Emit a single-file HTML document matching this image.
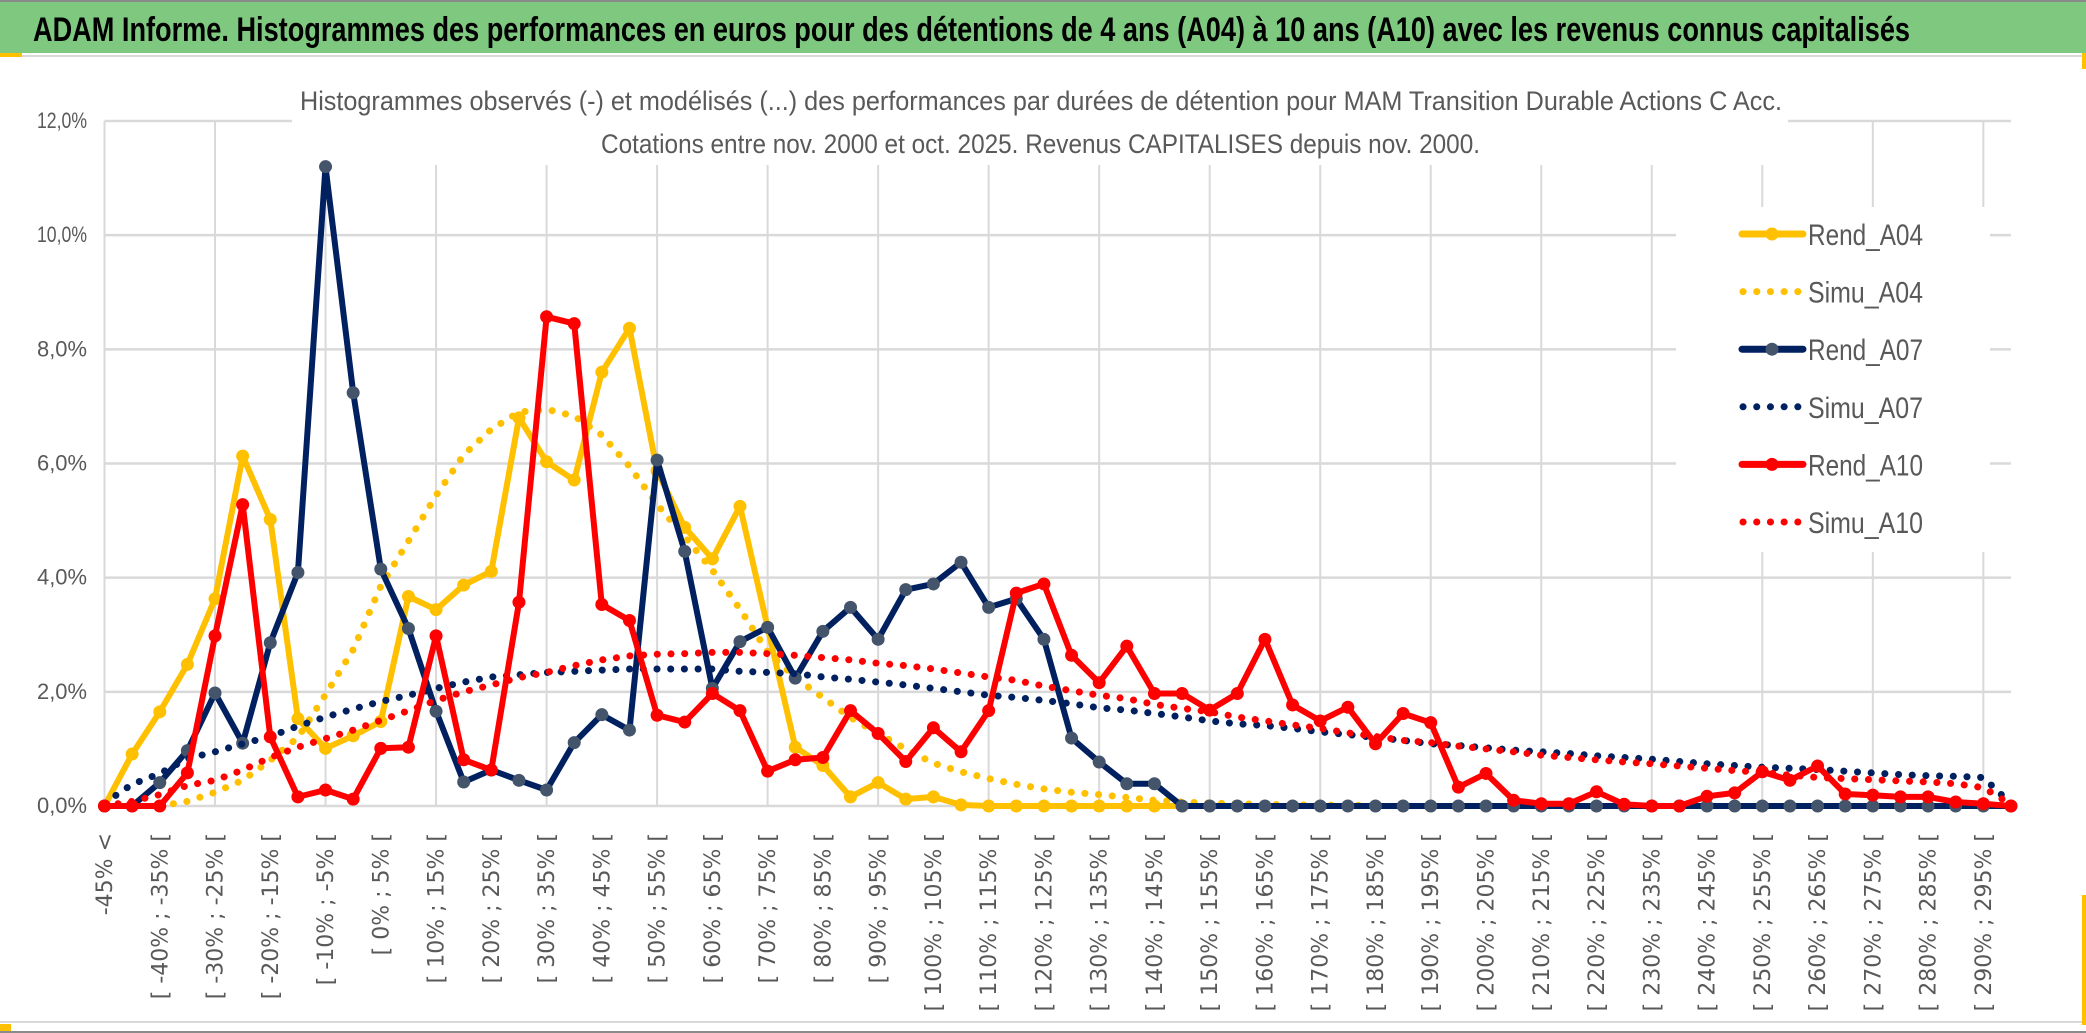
<!DOCTYPE html>
<html><head><meta charset="utf-8"><style>
html,body{margin:0;padding:0;background:#fff;}
svg{display:block;}
.nar{font-family:"Liberation Sans Narrow","Liberation Sans",sans-serif;}
</style></head><body>
<svg id="chart" width="2086" height="1033" viewBox="0 0 2086 1033" xmlns="http://www.w3.org/2000/svg">
<rect x="0" y="0" width="2086" height="1033" fill="#fff"/>
<rect x="0" y="0" width="2086" height="2" fill="#8a8a8a"/>
<rect x="0" y="1031" width="2086" height="2" fill="#8a8a8a"/>
<rect x="0" y="2" width="2086" height="51" fill="#7ec97f"/>
<text class="nar" x="33" y="41" font-size="34" font-weight="bold" fill="#000" textLength="1877" lengthAdjust="spacingAndGlyphs">ADAM Informe. Histogrammes des performances en euros pour des détentions de 4 ans (A04) à 10 ans (A10) avec les revenus connus capitalisés</text>
<rect x="0" y="55" width="2086" height="2" fill="#d9d9d9"/>
<rect x="0" y="1021" width="2086" height="2" fill="#d9d9d9"/>
<rect x="0" y="53" width="22" height="4" fill="#ffc000"/>
<rect x="0" y="1024" width="11" height="7" fill="#ffc000"/>
<rect x="2082" y="53" width="4" height="16" fill="#ffc000"/>
<rect x="2082" y="895" width="4" height="130" fill="#ffc000"/>
<g id="grid"></g>
<rect x="292" y="60" width="1496" height="105" fill="#fff"/>
<rect x="1676" y="207" width="314" height="345" fill="#fff"/>
<text class="nar" x="300" y="110" font-size="27" fill="#595959" textLength="1482" lengthAdjust="spacingAndGlyphs">Histogrammes observés (-) et modélisés (...) des performances par durées de détention pour MAM Transition Durable Actions C Acc.</text>
<text class="nar" x="601" y="153" font-size="27" fill="#595959" textLength="879" lengthAdjust="spacingAndGlyphs">Cotations entre nov. 2000 et oct. 2025. Revenus CAPITALISES depuis nov. 2000.</text>
<g id="yaxis"></g>
<g id="xaxis"></g>
<g id="series"></g>
<g id="legend"></g>
</svg>
<script>
const yTicks = [0, 2, 4, 6, 8, 10, 12];
const yTickLabels = ["0,0%", "2,0%", "4,0%", "6,0%", "8,0%", "10,0%", "12,0%"];
const rendA04 = [0,0.91,1.65,2.48,3.63,6.13,5.02,1.53,1.01,1.23,1.48,3.67,3.44,3.87,4.11,6.8,6.03,5.71,7.6,8.37,5.87,4.88,4.33,5.25,3.13,1.03,0.71,0.16,0.41,0.12,0.16,0.02,0,0,0,0,0,0,0,0];
const simuA04 = [null,null,0,0.08,0.24,0.45,0.8,1.2,1.95,2.74,3.85,4.64,5.44,6.15,6.6,6.9,6.95,6.83,6.5,5.95,5.28,4.72,4.13,3.45,2.7,2.25,1.9,1.55,1.27,1.0,0.75,0.6,0.48,0.38,0.3,0.24,0.2,0.15,0.1,0.07,0.05,0.04,0.03,0.02,0.02,0.01,0.01];
const rendA07 = [0,0,0.41,0.97,1.98,1.1,2.86,4.09,11.2,7.24,4.15,3.11,1.66,0.42,0.63,0.45,0.28,1.11,1.6,1.33,6.06,4.46,2.06,2.88,3.13,2.24,3.06,3.48,2.92,3.79,3.89,4.27,3.48,3.63,2.92,1.19,0.77,0.39,0.39,0,0,0,0,0,0,0,0,0,0,0,0,0,0,0,0,0,0,0,0,0,0,0,0,0,0,0,0,0,0,0];
const simuA07 = [0.05,0.38,0.57,0.83,0.95,1.09,1.22,1.4,1.56,1.7,1.83,1.94,2.06,2.17,2.26,2.3,2.34,2.36,2.38,2.4,2.4,2.4,2.4,2.36,2.34,2.32,2.26,2.22,2.17,2.12,2.06,2.0,1.94,1.9,1.85,1.79,1.72,1.68,1.62,1.56,1.49,1.44,1.41,1.36,1.3,1.25,1.2,1.15,1.09,1.06,1.02,0.98,0.95,0.92,0.88,0.85,0.82,0.78,0.74,0.71,0.68,0.66,0.64,0.61,0.58,0.55,0.53,0.52,0.5,0.04];
const rendA10 = [0,0,0,0.58,2.98,5.28,1.21,0.16,0.28,0.12,1.01,1.03,2.98,0.81,0.63,3.57,8.57,8.45,3.53,3.25,1.59,1.47,1.97,1.67,0.61,0.81,0.85,1.67,1.27,0.78,1.37,0.95,1.67,3.73,3.89,2.64,2.16,2.8,1.97,1.97,1.68,1.97,2.92,1.77,1.49,1.73,1.09,1.62,1.46,0.33,0.57,0.1,0.04,0.04,0.25,0.03,0,0,0.17,0.23,0.6,0.45,0.7,0.21,0.19,0.16,0.16,0.07,0.04,0];
const simuA10 = [0,0.08,0.2,0.36,0.45,0.63,0.85,1.03,1.18,1.33,1.5,1.67,1.85,2.0,2.12,2.25,2.34,2.46,2.56,2.63,2.66,2.67,2.69,2.69,2.67,2.64,2.6,2.56,2.5,2.46,2.4,2.33,2.26,2.2,2.1,2.02,1.94,1.88,1.78,1.71,1.65,1.56,1.49,1.42,1.36,1.28,1.22,1.15,1.11,1.05,1.0,0.95,0.89,0.85,0.81,0.77,0.74,0.7,0.66,0.62,0.59,0.54,0.5,0.48,0.46,0.44,0.42,0.39,0.32,0.03];
const seriesNames = ["Rend_A04","Simu_A04","Rend_A07","Simu_A07","Rend_A10","Simu_A10"];

// categories
const categories = ["-45% <"];
for (let b = -45; b < 300; b += 5) categories.push("[ " + b + "% ; " + (b + 5) + "% [");

const NS = "http://www.w3.org/2000/svg";
const X0 = 104.5, DX = 27.63, Y0 = 806, YTOP = 121, YMAX = 12;
function xPos(i) { return X0 + DX * i; }
function yPos(v) { return Y0 - (v / YMAX) * (Y0 - YTOP); }
function mk(tag, attrs, parent) {
  const e = document.createElementNS(NS, tag);
  for (const k in attrs) e.setAttribute(k, attrs[k]);
  parent.appendChild(e);
  return e;
}
const grid = document.getElementById("grid");
const xEnd = xPos(categories.length - 1);
yTicks.forEach((t, k) => {
  const l = mk("line", {x1: X0, x2: xEnd, y1: yPos(t), y2: yPos(t), stroke: "#d9d9d9", "stroke-width": 2.5}, grid);
  
  
});
for (let i = 0; i < categories.length; i += 4) {
  const l = mk("line", {x1: xPos(i), x2: xPos(i), y1: YTOP, y2: Y0, stroke: "#d9d9d9", "stroke-width": 2}, grid);
  
  
}
const yaxis = document.getElementById("yaxis");
yTicks.forEach((t, k) => {
  const tx = mk("text", {x: 87, y: yPos(t) + 7, "text-anchor": "end", "font-size": 22, fill: "#595959", class: "nar", textLength: 50, lengthAdjust: "spacingAndGlyphs"}, yaxis);
  tx.textContent = yTickLabels[k];
  
  
});
const xaxis = document.getElementById("xaxis");
for (let i = 0; i < categories.length; i += 2) {
  const x = xPos(i) + 7.5;
  const tx = mk("text", {x: x, y: 833, transform: "rotate(-90 " + x + " 833)", "text-anchor": "end", "font-size": 22, fill: "#595959", "font-family": "DejaVu Sans, sans-serif"}, xaxis);
  tx.textContent = categories[i];
  
  
}
const sg = document.getElementById("series");
function pathFor(arr) {
  let d = "", pen = false;
  arr.forEach((v, i) => {
    if (v === null || v === undefined) { pen = false; return; }
    d += (pen ? "L" : "M") + xPos(i).toFixed(1) + " " + yPos(v).toFixed(1) + " ";
    pen = true;
  });
  return d;
}
function solid(arr, color, mcolor, name) {
  const g = mk("g", {}, sg);
  
  
  const p = mk("path", {d: pathFor(arr), fill: "none", stroke: color, "stroke-width": 6, "stroke-linejoin": "round"}, g);
  
  
  arr.forEach((v, i) => {
    if (v === null || v === undefined) return;
    const c = mk("circle", {cx: xPos(i), cy: yPos(v), r: 6.5, fill: mcolor}, g);
    
    
  });
}
function dotted(arr, color, name) {
  const p = mk("path", {d: pathFor(arr), fill: "none", stroke: color, "stroke-width": 7, "stroke-linecap": "round", "stroke-dasharray": "0.1 13.6"}, sg);
  
  
}
solid(rendA04, "#ffc000", "#ffc000", "rend-a04");
dotted(simuA04, "#ffc000", "simu-a04");
solid(rendA07, "#002060", "#44546a", "rend-a07");
dotted(simuA07, "#002060", "simu-a07");
solid(rendA10, "#ff0000", "#ff0000", "rend-a10");
dotted(simuA10, "#ff0000", "simu-a10");

const lg = document.getElementById("legend");
const legColors = ["#ffc000","#ffc000","#002060","#002060","#ff0000","#ff0000"];
const legMarker = ["#ffc000",null,"#44546a",null,"#ff0000",null];
seriesNames.forEach((n, k) => {
  const cy = 234 + 57.6 * k;
  const g = mk("g", {}, lg);
  
  
  if (legMarker[k]) {
    mk("line", {x1: 1742, x2: 1803, y1: cy, y2: cy, stroke: legColors[k], "stroke-width": 7, "stroke-linecap": "round"}, g);
    mk("circle", {cx: 1772, cy: cy, r: 6.5, fill: legMarker[k]}, g);
  } else {
    mk("line", {x1: 1743, x2: 1800, y1: cy, y2: cy, stroke: legColors[k], "stroke-width": 7, "stroke-linecap": "round", "stroke-dasharray": "0.1 13.6"}, g);
  }
  const t = mk("text", {x: 1808, y: cy + 11, "font-size": 30, fill: "#595959", class: "nar", textLength: 115, lengthAdjust: "spacingAndGlyphs"}, g);
  t.textContent = n;
  
  
});
</script>
</body></html>
